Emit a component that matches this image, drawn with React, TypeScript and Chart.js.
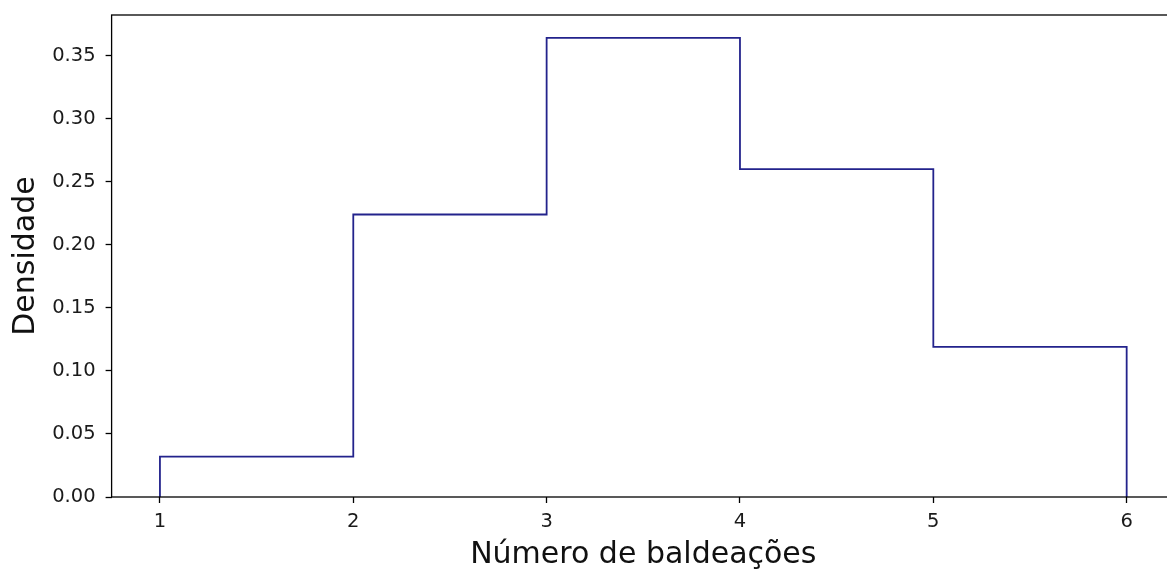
import React, { useEffect, useRef } from "react";
import { Chart, registerables } from "chart.js";

Chart.register(...registerables);

const binEdges = [1, 2, 3, 4, 5, 6];
const densities = [0.032, 0.224, 0.364, 0.26, 0.119];
const xTicks = [1, 2, 3, 4, 5, 6];
const yTicks = [0, 0.05, 0.1, 0.15, 0.2, 0.25, 0.3, 0.35];
const xLabel = "Número de baldeações";
const yLabel = "Densidade";

const FONT = "'DejaVu Sans', 'Liberation Sans', sans-serif";
const LINE_COLOR = "#23238c";
const CANVAS_W = 1200;
const CANVAS_H = 573;

function stepPoints() {
  const pts: { x: number; y: number }[] = [{ x: binEdges[0], y: 0 }];
  densities.forEach((d, i) => {
    pts.push({ x: binEdges[i], y: d });
    pts.push({ x: binEdges[i + 1], y: d });
  });
  pts.push({ x: binEdges[binEdges.length - 1], y: 0 });
  return pts;
}

const spines = {
  id: "spines",
  afterDraw(chart: any) {
    const { ctx, chartArea } = chart;
    ctx.save();
    ctx.strokeStyle = "#000";
    ctx.lineWidth = 1.3;
    ctx.strokeRect(chartArea.left, chartArea.top, chartArea.right - chartArea.left, chartArea.bottom - chartArea.top);
    ctx.restore();
  },
};

export default function App() {
  const ref = useRef<HTMLCanvasElement | null>(null);
  useEffect(() => {
    if (!ref.current) return;
    const span = binEdges[binEdges.length - 1] - binEdges[0];
    const xMin = binEdges[0] - 0.05 * span;
    const xMax = binEdges[binEdges.length - 1] + 0.05 * span;
    const yMax = Math.max(...densities) * 1.05;
    const chart = new Chart(ref.current, {
      type: "line",
      data: {
        datasets: [
          {
            data: stepPoints(),
            borderColor: LINE_COLOR,
            borderWidth: 1.8,
            pointRadius: 0,
            fill: false,
            tension: 0,
          },
        ],
      },
      options: {
        animation: false,
        responsive: false,
        maintainAspectRatio: false,
        layout: { padding: { top: 15, right: CANVAS_W - 1175, left: 0, bottom: 0 } },
        plugins: { legend: { display: false }, tooltip: { enabled: false } },
        scales: {
          x: {
            type: "linear",
            min: xMin,
            max: xMax,
            afterBuildTicks: (s: any) => {
              s.ticks = xTicks.map((v) => ({ value: v }));
            },
            afterFit: (s: any) => {
              s.height = 76;
              s.paddingLeft = 0;
              s.paddingRight = 0;
            },
            grid: { display: true, drawOnChartArea: false, drawTicks: true, tickLength: 6, tickColor: "#000", tickWidth: 1.3 },
            border: { display: false },
            ticks: {
              color: "#1a1a1a",
              padding: 7,
              font: { family: FONT, size: 19.5 },
              callback: (v: any) => String(v),
              maxRotation: 0,
            },
            title: {
              display: true,
              text: xLabel,
              color: "#111",
              font: { family: FONT, size: 30 },
              padding: { top: 0, bottom: 0 },
            },
          },
          y: {
            type: "linear",
            min: 0,
            max: yMax,
            afterBuildTicks: (s: any) => {
              s.ticks = yTicks.map((v) => ({ value: v }));
            },
            afterFit: (s: any) => {
              s.width = 111.6;
              s.paddingTop = 0;
              s.paddingBottom = 0;
            },
            grid: { display: true, drawOnChartArea: false, drawTicks: true, tickLength: 6, tickColor: "#000", tickWidth: 1.3 },
            border: { display: false },
            ticks: {
              color: "#1a1a1a",
              padding: 10,
              font: { family: FONT, size: 19.5 },
              callback: (v: any) => Number(v).toFixed(2),
            },
            title: {
              display: true,
              text: yLabel,
              color: "#111",
              font: { family: FONT, size: 30 },
              padding: { top: 8, bottom: 0 },
            },
          },
        },
      },
      plugins: [spines],
    });
    return () => chart.destroy();
  }, []);
  return (
    <div style={{ position: "fixed", left: 0, top: 0, width: 1167, height: 573, overflow: "hidden", background: "#fff" }}>
      <canvas ref={ref} width={CANVAS_W} height={CANVAS_H} style={{ width: CANVAS_W, height: CANVAS_H, display: "block" }} />
    </div>
  );
}
